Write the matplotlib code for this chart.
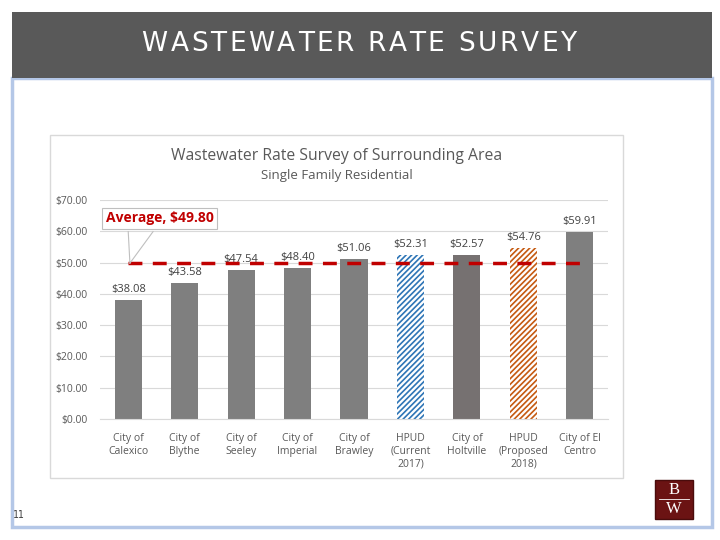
import matplotlib.pyplot as plt
from matplotlib.font_manager import FontProperties
from matplotlib.patches import Rectangle
from matplotlib.textpath import text_to_path

# chart data
categories = ["City of\nCalexico", "City of\nBlythe", "City of\nSeeley", "City of\nImperial",
              "City of\nBrawley", "HPUD\n(Current\n2017)", "City of\nHoltville",
              "HPUD\n(Proposed\n2018)", "City of El\nCentro"]
rates = [38.08, 43.58, 47.54, 48.40, 51.06, 52.31, 52.57, 54.76, 59.91]
average = 49.80
y_ticks = [0, 10, 20, 30, 40, 50, 60, 70]
header = "WASTEWATER RATE SURVEY"

W, H = 720, 540
fig = plt.figure(figsize=(7.2, 5.4), dpi=100)


def fx(px):
    return px / W


def fy(py):
    return 1 - py / H


def add_rect(x0, y0, x1, y1, **kw):
    # rectangle given in pixel coords (top-left origin), drawn behind the axes
    fig.patches.append(Rectangle((fx(x0), fy(y1)), fx(x1 - x0), (y1 - y0) / H,
                                 transform=fig.transFigure, zorder=-5, **kw))


# slide frame and header
add_rect(12, 78, 712, 527, facecolor="white", edgecolor="#b4c7e7", lw=2.5)
add_rect(12, 12, 712, 78, facecolor="#595959", edgecolor="none")

# header with letter tracking: place each character by its advance width
hdr_font = FontProperties(family="DejaVu Sans", size=19)
px_per_pt = 100 / 72
widths = [text_to_path.get_text_width_height_descent(ch, hdr_font, ismath=False)[0] * px_per_pt
          for ch in header]
tracking = 2.6
total = sum(widths) + tracking * (len(header) - 1)
cursor = 359 - total / 2
for ch, w in zip(header, widths):
    if ch != " ":
        fig.text(fx(cursor), fy(44), ch, color="white", fontproperties=hdr_font,
                 ha="left", va="center")
    cursor += w + tracking

# chart box
add_rect(50, 135, 623, 478, facecolor="white", edgecolor="#d9d9d9", lw=1)
fig.text(fx(337), fy(156), "Wastewater Rate Survey of Surrounding Area", color="#595959",
         fontsize=11.3, ha="center", va="center", family="Open Sans")
fig.text(fx(337), fy(176), "Single Family Residential", color="#595959",
         fontsize=9.5, ha="center", va="center", family="Open Sans")

ax = fig.add_axes([fx(100), fy(419), fx(508), (419 - 200) / H])
ax.set_zorder(5)
x = list(range(len(categories)))
colors = ["#7f7f7f"] * len(categories)
colors[6] = "#767171"
plt.rcParams["hatch.linewidth"] = 1.2
bars = ax.bar(x, rates, width=0.48, color=colors, zorder=2)
for i, c in [(5, "#2e75b6"), (7, "#c55a11")]:
    bars[i].set_facecolor("white")
    bars[i].set_edgecolor(c)
    bars[i].set_hatch("//////")
    bars[i].set_linewidth(0)

for xi, v in zip(x, rates):
    ax.text(xi, v + 1.6, f"${v:.2f}", ha="center", va="bottom", fontsize=8,
            color="#404040", family="Open Sans", zorder=1)

ax.plot([x[0], x[-1]], [average, average], color="#c00000", lw=2.5, ls=(0, (4, 3)), zorder=3)

# callout box with a wedge pointing at the start of the average line
box_y = 64.2
ax.text(x[0] - 0.4, box_y, f"Average, ${average:.2f}", fontsize=10, fontweight="bold",
        color="#c00000", family="Open Sans", ha="left", va="center", zorder=6,
        bbox=dict(boxstyle="square,pad=0.25", fc="white", ec="#bfbfbf", lw=0.8))
tip = (x[0] + 0.03, average)
for base_x in (x[0], x[0] + 0.44):
    ax.plot([base_x, tip[0]], [box_y - 4.3, tip[1]], color="#bfbfbf", lw=0.8, zorder=5)

ax.set_xlim(-0.5, len(categories) - 0.5)
ax.set_ylim(0, 70)
ax.set_yticks(y_ticks)
ax.set_yticklabels([f"${t:.2f}" for t in y_ticks], fontsize=7.5, color="#595959",
                   family="Open Sans")
ax.set_xticks(x)
ax.set_xticklabels(categories, fontsize=7.5, color="#595959", family="Open Sans",
                   linespacing=1.25)
ax.grid(axis="y", color="#d9d9d9", lw=0.8, zorder=0)
ax.tick_params(axis="y", length=0, pad=9)
ax.tick_params(axis="x", length=0, pad=10)
for side in ["top", "right", "left"]:
    ax.spines[side].set_visible(False)
ax.spines["bottom"].set_color("#d9d9d9")
ax.set_facecolor("none")

# footer
fig.text(fx(13), fy(515), "11", fontsize=7, color="#404040", ha="left", va="center",
         family="DejaVu Sans Mono")
add_rect(655, 480, 693, 519, facecolor="#6b1313", edgecolor="#4a0c0c", lw=1)
fig.text(fx(674), fy(490), "B", color="white", fontsize=12, ha="center", va="center",
         family="Liberation Serif")
fig.text(fx(674), fy(509), "W", color="white", fontsize=12, ha="center", va="center",
         family="Liberation Serif")
fig.lines.append(plt.Line2D([fx(659), fx(689)], [fy(499), fy(499)], transform=fig.transFigure,
                            color="white", lw=0.6))

fig.savefig("out.png", dpi=100)
